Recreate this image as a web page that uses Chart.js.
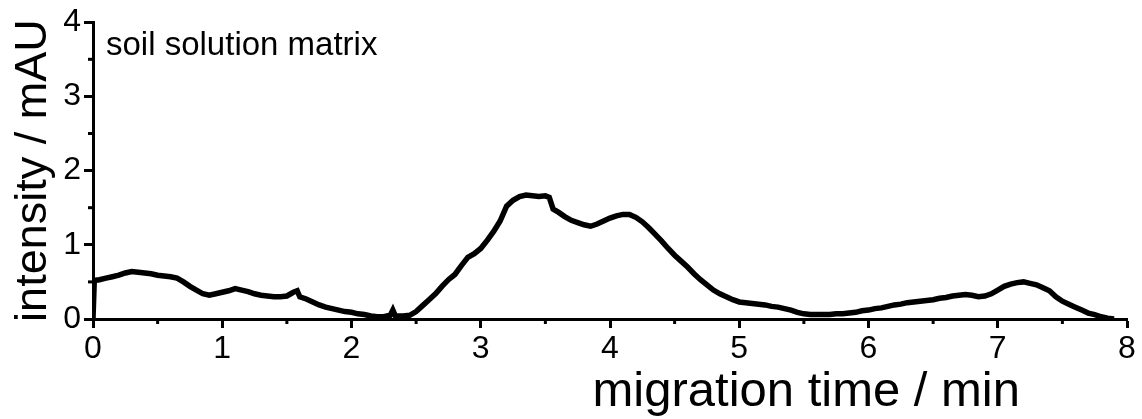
<!DOCTYPE html>
<html>
<head>
<meta charset="utf-8">
<script src="https://cdn.jsdelivr.net/npm/chart.js@4/dist/chart.umd.min.js"></script>
<style>
html,body{margin:0;padding:0;background:#fff;}
#c{display:block;}
</style>
</head>
<body>
<canvas id="c" width="1142" height="419"></canvas>
<script>
// migration time / min
const timeMin = [
 0.00,0.01,0.05,0.10,0.15,0.20,0.25,0.30,0.35,0.40,0.45,0.50,0.55,0.60,0.65,0.70,0.75,0.80,0.85,0.90,0.95,
 1.00,1.05,1.10,1.15,1.20,1.25,1.30,1.35,1.40,1.45,1.50,1.55,1.58,1.60,1.65,1.70,1.75,1.80,1.85,1.90,1.95,
 2.00,2.05,2.10,2.15,2.20,2.25,2.30,2.32,2.34,2.40,2.45,2.50,2.55,2.60,2.65,2.70,2.75,2.80,2.85,2.90,2.95,
 3.00,3.05,3.10,3.15,3.20,3.25,3.30,3.35,3.40,3.45,3.50,3.53,3.56,3.60,3.65,3.70,3.75,3.80,3.85,3.90,3.95,
 4.00,4.05,4.10,4.15,4.20,4.25,4.30,4.35,4.40,4.45,4.50,4.55,4.60,4.65,4.70,4.75,4.80,4.85,4.90,4.95,
 5.00,5.05,5.10,5.15,5.20,5.25,5.30,5.35,5.40,5.45,5.50,5.55,5.60,5.65,5.70,5.75,5.80,5.85,5.90,5.95,
 6.00,6.05,6.10,6.15,6.20,6.25,6.30,6.35,6.40,6.45,6.50,6.55,6.60,6.65,6.70,6.75,6.80,6.85,6.90,6.95,
 7.00,7.05,7.10,7.15,7.20,7.25,7.30,7.35,7.40,7.45,7.50,7.55,7.60,7.65,7.70,7.75,7.80,7.85,7.90
];
// intensity / mAU
const intensity = [
 0.00,0.52,0.53,0.55,0.57,0.59,0.62,0.64,0.63,0.62,0.61,0.59,0.58,0.57,0.55,0.50,0.44,0.39,0.34,0.32,0.34,
 0.36,0.38,0.41,0.39,0.37,0.34,0.32,0.31,0.30,0.30,0.31,0.36,0.38,0.30,0.27,0.23,0.19,0.16,0.14,0.12,0.10,
 0.09,0.07,0.06,0.04,0.03,0.03,0.05,0.12,0.04,0.04,0.05,0.10,0.18,0.26,0.34,0.44,0.53,0.60,0.72,0.83,0.88,
 0.95,1.06,1.18,1.32,1.52,1.60,1.65,1.67,1.66,1.65,1.66,1.64,1.48,1.44,1.38,1.33,1.30,1.27,1.25,1.28,1.32,
 1.36,1.39,1.41,1.41,1.37,1.31,1.23,1.14,1.05,0.95,0.86,0.78,0.70,0.61,0.53,0.46,0.39,0.34,0.30,0.26,
 0.23,0.22,0.21,0.20,0.19,0.17,0.16,0.14,0.12,0.09,0.07,0.06,0.06,0.06,0.06,0.07,0.07,0.08,0.09,0.11,
 0.12,0.14,0.15,0.17,0.19,0.20,0.22,0.23,0.24,0.25,0.26,0.28,0.29,0.31,0.32,0.33,0.32,0.30,0.31,0.34,
 0.39,0.44,0.47,0.49,0.50,0.48,0.46,0.42,0.38,0.30,0.24,0.20,0.16,0.12,0.08,0.06,0.03,0.01,0.00
];
const xTickLabels = ["0","1","2","3","4","5","6","7","8"];
const yTickLabels = ["0","1","2","3","4"];
const xTitle = "migration time / min";
const yTitle = "intensity / mAU";
const panelLabel = "soil solution matrix";

const FONT = "'Liberation Sans', Arial, sans-serif";

const points = timeMin.map((t, i) => ({x: t, y: intensity[i]}));

const decorPlugin = {
  id: 'decor',
  afterDraw(chart) {
    const ctx = chart.ctx;
    const xs = chart.scales.x, ys = chart.scales.y;
    const area = chart.chartArea;
    ctx.save();
    ctx.strokeStyle = '#000';
    ctx.lineWidth = 3;
    // minor ticks at half units
    for (let v = 0.5; v < 8; v += 1) {
      const px = xs.getPixelForValue(v);
      ctx.beginPath(); ctx.moveTo(px, area.bottom); ctx.lineTo(px, area.bottom + 5); ctx.stroke();
    }
    for (let v = 0.5; v < 4; v += 1) {
      const py = ys.getPixelForValue(v);
      ctx.beginPath(); ctx.moveTo(area.left, py); ctx.lineTo(area.left - 5, py); ctx.stroke();
    }
    ctx.fillStyle = '#000';
    // x title
    ctx.font = "49px " + FONT;
    ctx.textAlign = 'right';
    ctx.textBaseline = 'alphabetic';
    ctx.fillText(xTitle, 1020, 406);
    // y title
    ctx.save();
    ctx.font = "45px " + FONT;
    ctx.translate(46, (area.top + area.bottom) / 2);
    ctx.rotate(-Math.PI / 2);
    ctx.textAlign = 'center';
    ctx.fillText(yTitle, 0, 0);
    ctx.restore();
    // panel label
    ctx.font = "33px " + FONT;
    ctx.textAlign = 'left';
    ctx.fillText(panelLabel, area.left + 13, area.top + 33);
    ctx.restore();
  }
};

new Chart(document.getElementById('c'), {
  type: 'line',
  data: {
    datasets: [{
      data: points,
      borderColor: '#000',
      borderWidth: 5.5,
      pointRadius: 0,
      tension: 0,
      fill: false
    }]
  },
  options: {
    responsive: false,
    animation: false,
    devicePixelRatio: 1,
    layout: { padding: { top: 22, right: 15, left: 0, bottom: 0 } },
    plugins: { legend: { display: false }, tooltip: { enabled: false } },
    scales: {
      x: {
        type: 'linear', min: 0, max: 8,
        afterFit(s) { s.height = 100; },
        ticks: { stepSize: 1, color: '#000', font: { family: FONT, size: 32 }, padding: 2, maxRotation: 0,
                 callback: (v) => xTickLabels[v] !== undefined ? xTickLabels[v] : '' },
        grid: { drawOnChartArea: false, drawTicks: true, tickLength: 9, tickWidth: 3, tickColor: '#000' },
        border: { display: true, color: '#000', width: 3 }
      },
      y: {
        type: 'linear', min: 0, max: 4,
        afterFit(s) { s.width = 93; },
        ticks: { stepSize: 1, color: '#000', font: { family: FONT, size: 32 }, padding: 3,
                 callback: (v) => yTickLabels[v] !== undefined ? yTickLabels[v] : '' },
        grid: { drawOnChartArea: false, drawTicks: true, tickLength: 9, tickWidth: 3, tickColor: '#000' },
        border: { display: true, color: '#000', width: 3 }
      }
    }
  },
  plugins: [decorPlugin]
});
</script>
</body>
</html>
